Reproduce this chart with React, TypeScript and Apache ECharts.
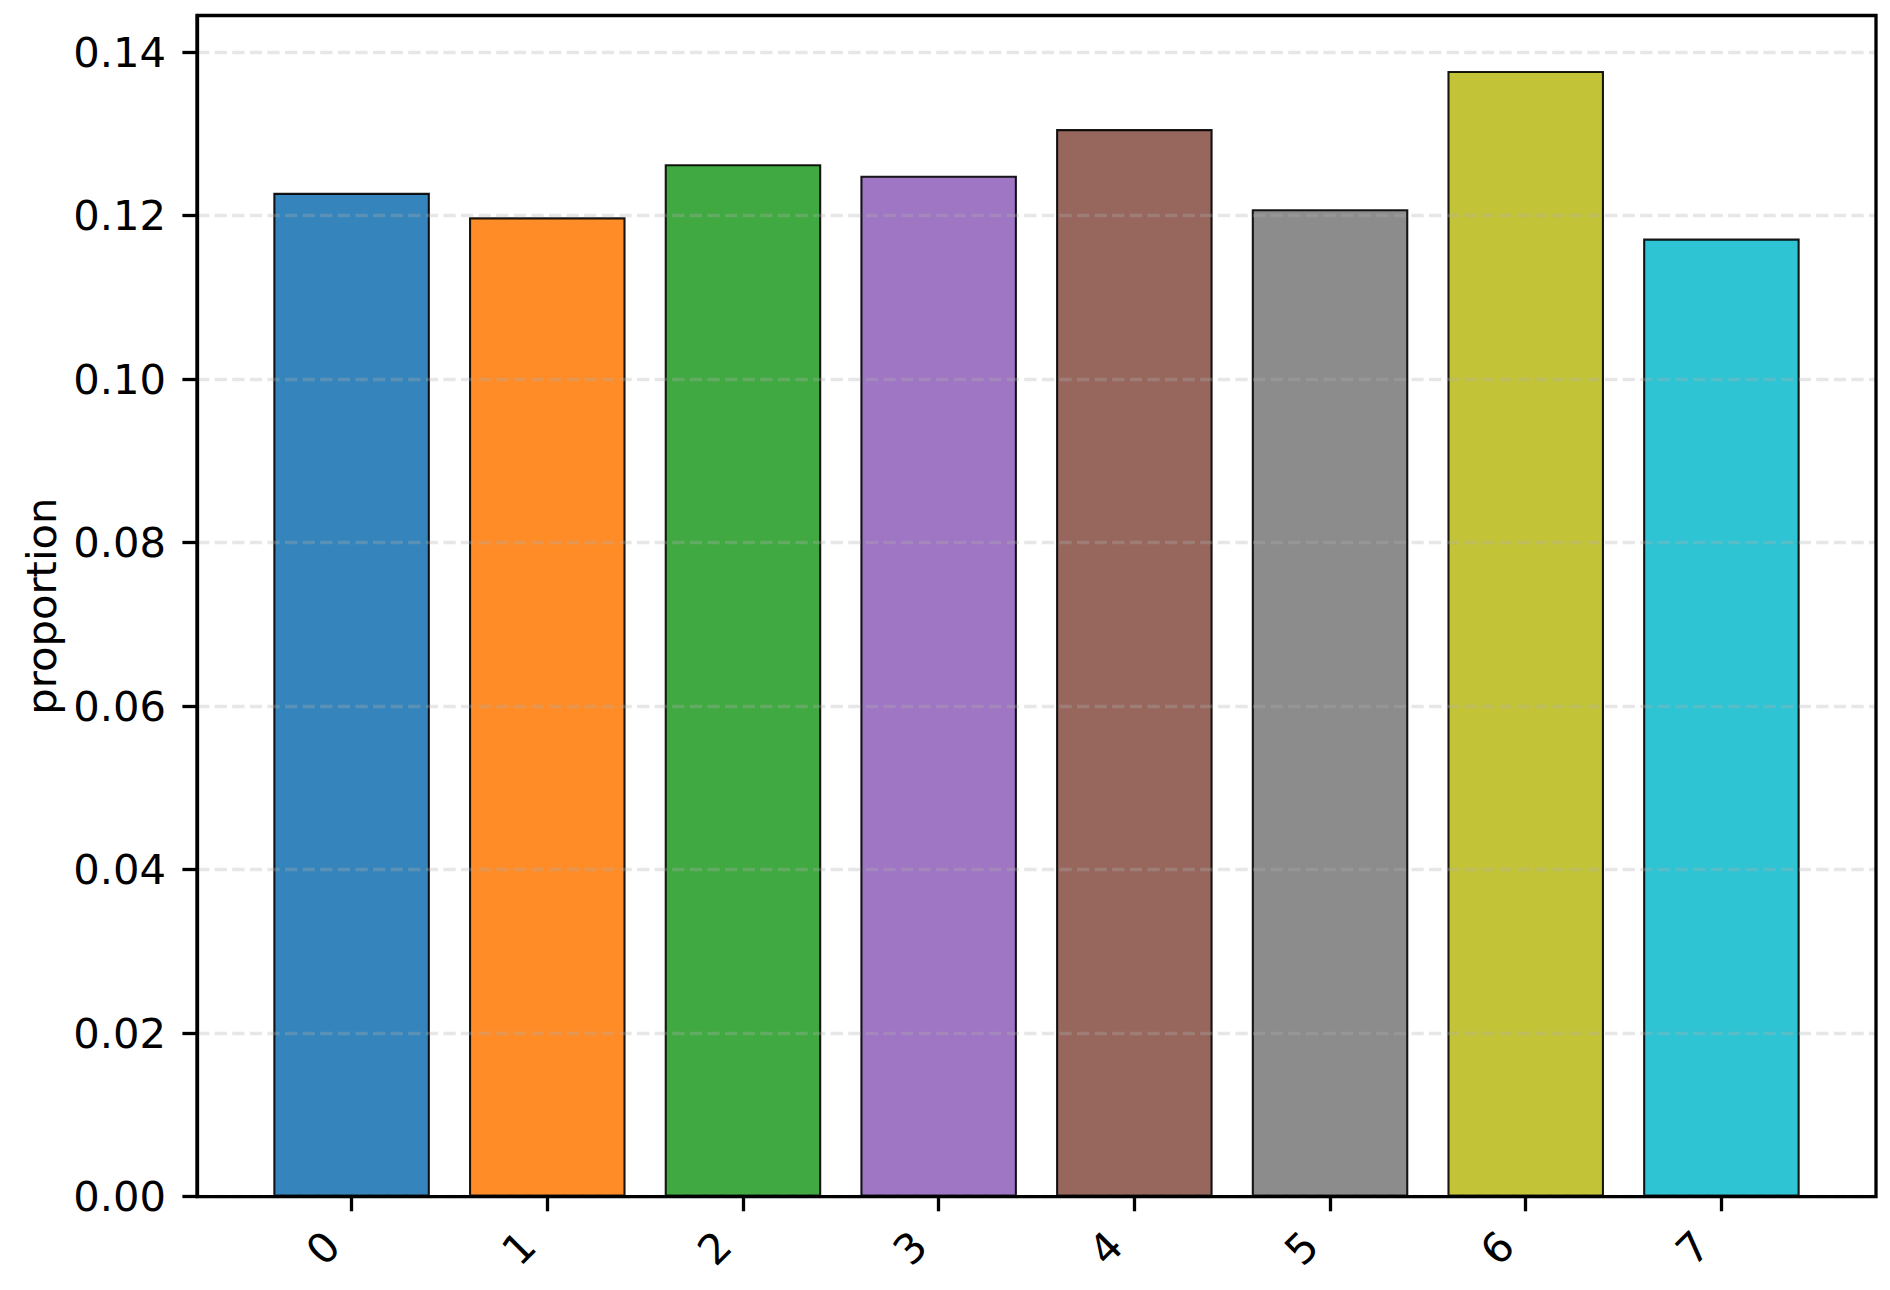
import React, { useEffect, useRef } from "react";
import * as echarts from "echarts";

const categories = ["0", "1", "2", "3", "4", "5", "6", "7"];
const proportions = [0.1228, 0.1198, 0.1263, 0.1249, 0.1306, 0.1208, 0.1377, 0.1172];
const barColors = ["#1f77b4", "#ff7f0e", "#2ca02c", "#9467bd", "#8c564b", "#7f7f7f", "#bcbd22", "#17becf"];
const yTicks = [0, 0.02, 0.04, 0.06, 0.08, 0.1, 0.12, 0.14];
const yLabel = "proportion";

const FONT = "DejaVu Sans";
const FS = 41.7;

export default function App() {
  const ref = useRef<HTMLDivElement>(null);
  useEffect(() => {
    if (!ref.current) return;
    const chart = echarts.init(ref.current, null, { renderer: "svg" });
    const plotLeft = 197;
    const plotRight = 1876;
    const plotTop = 15.5;
    const plotBottom = 1196.7;
    const plotW = plotRight - plotLeft;
    const unit = plotW / 8.58;
    const tick0 = plotLeft + 0.79 * unit;
    const barGridLeft = tick0 - unit / 2;
    const yMax = 0.14449;

    chart.setOption({
      animation: false,
      backgroundColor: "#ffffff",
      grid: [
        {
          left: barGridLeft,
          top: plotTop,
          width: unit * 8,
          height: plotBottom - plotTop,
          containLabel: false,
        },
        {
          left: plotLeft,
          top: plotTop,
          width: plotW,
          height: plotBottom - plotTop,
          show: true,
          z: 6,
          borderColor: "#000000",
          borderWidth: 3.3,
          backgroundColor: "transparent",
          containLabel: false,
        },
      ],
      xAxis: [
        {
          gridIndex: 0,
          type: "category",
          data: categories,
          boundaryGap: true,
          axisLine: { show: false },
          axisTick: {
            show: true,
            alignWithLabel: true,
            length: 14.6,
            lineStyle: { color: "#000000", width: 3.3 },
          },
          axisLabel: {
            rotate: 45,
            fontFamily: FONT,
            fontSize: FS,
            color: "#000000",
            margin: 23,
            padding: [0, 27, 0, 0],
          },
          splitLine: { show: false },
        },
        {
          gridIndex: 1,
          type: "value",
          min: 0,
          max: 1,
          show: false,
        },
      ],
      yAxis: [
        {
          gridIndex: 0,
          type: "value",
          min: 0,
          max: yMax,
          show: false,
        },
        {
          gridIndex: 1,
          type: "value",
          min: 0,
          max: yMax,
          interval: 0.02,
          z: 5,
          name: yLabel,
          nameLocation: "middle",
          nameGap: 134,
          nameTextStyle: { fontFamily: FONT, fontSize: FS, color: "#000000" },
          axisLine: { show: true, lineStyle: { color: "#000000", width: 3.3 } },
          axisTick: {
            show: true,
            length: 14.6,
            customValues: yTicks,
            lineStyle: { color: "#000000", width: 3.3 },
          },
          axisLabel: {
            customValues: yTicks,
            fontFamily: FONT,
            fontSize: FS,
            color: "#000000",
            margin: 31,
            formatter: (v: number) => v.toFixed(2),
          },
          splitLine: {
            show: true,
            lineStyle: { color: "rgba(176,176,176,0.3)", width: 3.3, type: [12.3, 5.3] },
          },
        },
      ],
      series: [
        {
          type: "bar",
          xAxisIndex: 0,
          yAxisIndex: 0,
          barWidth: unit * 0.8,
          z: 2,
          data: proportions.map((v, i) => ({
            value: v,
            itemStyle: {
              color: barColors[i],
              opacity: 0.9,
              borderColor: "#000000",
              borderWidth: 2.08,
            },
          })),
        },
      ],
    });
    return () => chart.dispose();
  }, []);
  return (
    <div
      ref={ref}
      style={{ position: "fixed", left: 0, top: 0, width: 1890, height: 1290, background: "#fff" }}
    />
  );
}
